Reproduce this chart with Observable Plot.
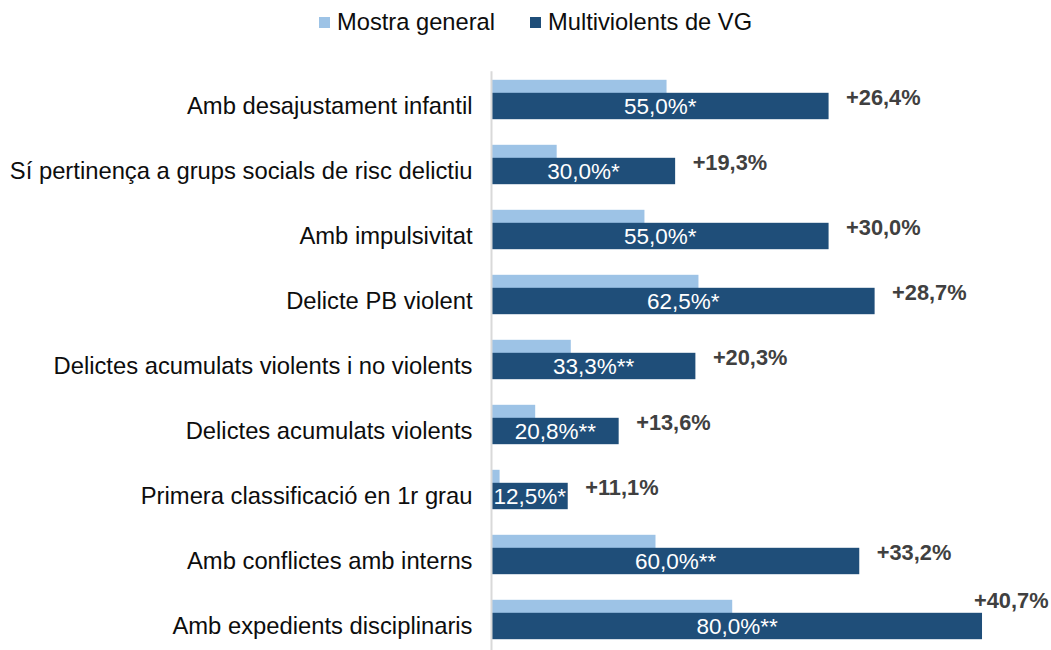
<!DOCTYPE html>
<html>
<head>
<meta charset="utf-8">
<script src="https://cdn.jsdelivr.net/npm/d3@7"></script>
<script src="https://cdn.jsdelivr.net/npm/@observablehq/plot@0.6"></script>
<style>
  html, body { margin: 0; padding: 0; background: #fff; overflow: hidden; }
  body { width: 1051px; height: 650px; font-family: "Liberation Sans", Arial, sans-serif; }
  #legend { position: relative; height: 50px; }
  .item { position: absolute; top: 8px; display: flex; align-items: center; font-size: 23.7px; color: #0d0d0d; line-height: 28px; }
  .sw { width: 11px; height: 11px; margin-right: 7px; }
</style>
</head>
<body>
<div id="legend"></div>
<div id="chart"></div>
<script>
const categories = [
  "Amb desajustament infantil",
  "Sí pertinença a grups socials de risc delictiu",
  "Amb impulsivitat",
  "Delicte PB violent",
  "Delictes acumulats violents i no violents",
  "Delictes acumulats violents",
  "Primera classificació en 1r grau",
  "Amb conflictes amb interns",
  "Amb expedients disciplinaris"
];
const vgValues = [55.0, 30.0, 55.0, 62.5, 33.3, 20.8, 12.5, 60.0, 80.0];
const significance = ["*", "*", "*", "*", "**", "**", "*", "**", "**"];
const differences = [26.4, 19.3, 30.0, 28.7, 20.3, 13.6, 11.1, 33.2, 40.7];
const generalValues = vgValues.map((v, i) => +(v - differences[i]).toFixed(1));
const seriesNames = ["Mostra general", "Multiviolents de VG"];
const colors = ["#9dc3e6", "#1f4e79"];

const fmt = v => v.toFixed(1).replace(".", ",");
const rows = categories.map((c, i) => ({
  cat: c, gen: generalValues[i], vg: vgValues[i],
  label: fmt(vgValues[i]) + "%" + significance[i],
  diff: "+" + fmt(differences[i]) + "%",
  last: i === categories.length - 1
}));

// legend
const legend = document.getElementById("legend");
const lefts = [319, 530];
seriesNames.forEach((n, i) => {
  const d = document.createElement("div");
  d.className = "item";
  d.style.left = lefts[i] + "px";
  d.innerHTML = `<span class="sw" style="background:${colors[i]}"></span><span>${n}</span>`;
  legend.appendChild(d);
});

const step = 65.6;
const chart = Plot.plot({
  width: 1051,
  height: 14.2 + step * categories.length,
  marginLeft: 491,
  marginRight: 7.6,
  marginTop: 14.2,
  marginBottom: 0,
  style: { fontFamily: "Liberation Sans, Arial, sans-serif", overflow: "visible" },
  x: { domain: [0, 90], axis: null },
  y: { domain: categories, padding: 0, axis: null },
  marks: [
    Plot.barX(rows, { x: "gen", y: "cat", fill: colors[0], insetTop: 12.8, insetBottom: 25.8 }),
    Plot.barX(rows, { x: "vg", y: "cat", fill: colors[1], insetTop: 25.8, insetBottom: 12.8 }),
    Plot.ruleX([0], { stroke: "#d9d9d9", strokeWidth: 2, insetTop: 7 }),
    Plot.text(rows, { x: 0, y: "cat", text: "cat", textAnchor: "end", dx: -19, dy: 6, fontSize: 23.8, fill: "#0d0d0d" }),
    Plot.text(rows, { x: d => d.vg / 2, y: "cat", text: "label", dy: 6.5, fontSize: 22.5, fill: "#ffffff" }),
    Plot.text(rows.filter(d => !d.last), { x: "vg", y: "cat", text: "diff", textAnchor: "start", dx: 17, dy: -1.5, fontSize: 21.8, fontWeight: "bold", fill: "#404040" }),
    Plot.text(rows.filter(d => d.last), { x: "vg", y: "cat", text: "diff", textAnchor: "end", dx: 66, dy: -19, fontSize: 21.8, fontWeight: "bold", fill: "#404040" })
  ]
});
document.getElementById("chart").appendChild(chart);
</script>
</body>
</html>
